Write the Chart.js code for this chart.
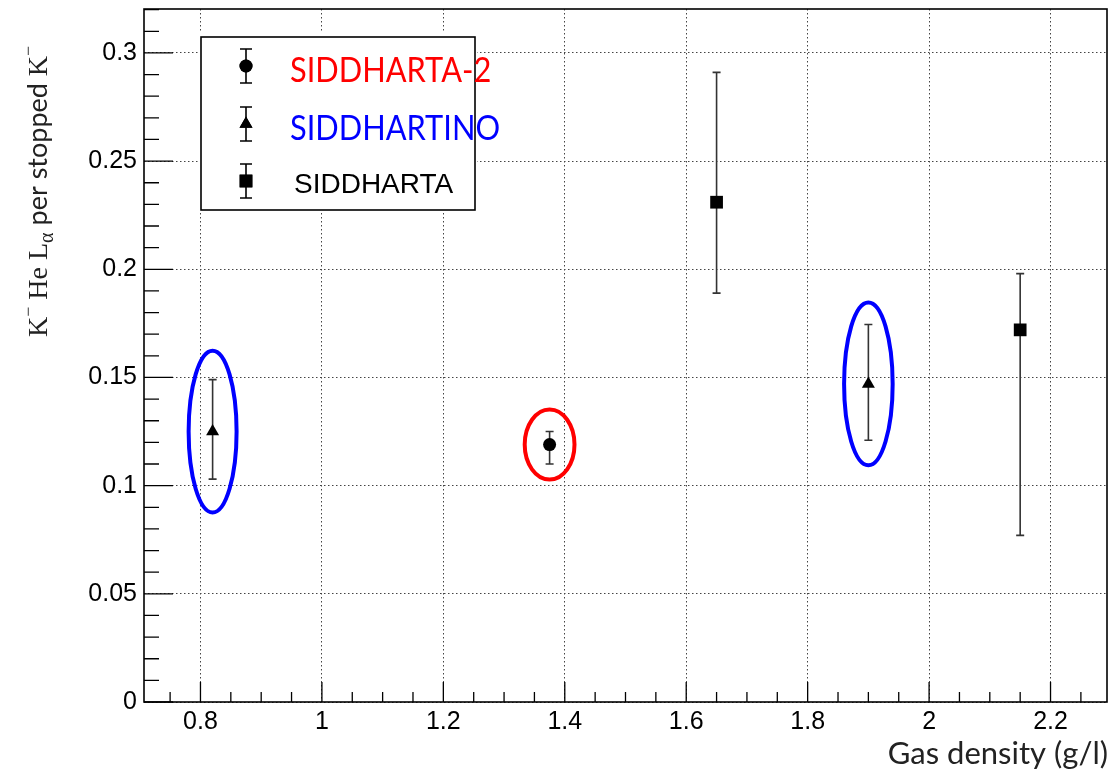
<!DOCTYPE html>
<html>
<head>
<meta charset="utf-8">
<title>K- He L-alpha yield vs gas density</title>
<script src="https://cdn.jsdelivr.net/npm/chart.js@4.4.1/dist/chart.umd.min.js"></script>
<style>
  html, body { margin: 0; padding: 0; background: #fff; }
  canvas { display: block; }
</style>
</head>
<body>
<canvas id="chart" width="1116" height="769"></canvas>
<script>
// Data
const labels = ['SIDDHARTA-2', 'SIDDHARTINO', 'SIDDHARTA'];

const sid2X = [1.375];
const sid2Y = [0.119];
const sid2Lo = [0.110];
const sid2Hi = [0.125];

const sinoX = [0.82, 1.90];
const sinoY = [0.125, 0.147];
const sinoLo = [0.103, 0.121];
const sinoHi = [0.149, 0.1745];

const sidX = [1.65, 2.15];
const sidY = [0.231, 0.172];
const sidLo = [0.189, 0.077];
const sidHi = [0.291, 0.198];

const xTicks = [0.8, 1, 1.2, 1.4, 1.6, 1.8, 2, 2.2];
const yTicks = [0, 0.05, 0.1, 0.15, 0.2, 0.25, 0.3];

// circled points: dataset index, point index, colour, half-axes in data units
const circled = [
    { ds: 0, i: 0, color: '#ff0000', rx: 0.041, ry: 0.0162 },
    { ds: 1, i: 0, color: '#0000ff', rx: 0.0395, ry: 0.0374 },
    { ds: 1, i: 1, color: '#0000ff', rx: 0.040, ry: 0.0376 }
];

const toPoints = (xs, ys, lo, hi) => xs.map((x, i) => ({ x: x, y: ys[i], lo: lo[i], hi: hi[i] }));

// error bars with small caps, drawn under the markers
const errorBars = {
    id: 'errorBars',
    beforeDatasetsDraw(chart) {
        const ctx = chart.ctx;
        const xs = chart.scales.x, ys = chart.scales.y;
        ctx.save();
        ctx.strokeStyle = '#333';
        ctx.lineWidth = 1.6;
        chart.data.datasets.forEach(ds => {
            ds.data.forEach(p => {
                const px = xs.getPixelForValue(p.x);
                const top = ys.getPixelForValue(p.hi);
                const bot = ys.getPixelForValue(p.lo);
                ctx.beginPath();
                ctx.moveTo(px, top); ctx.lineTo(px, bot);
                ctx.moveTo(px - 4, top); ctx.lineTo(px + 4, top);
                ctx.moveTo(px - 4, bot); ctx.lineTo(px + 4, bot);
                ctx.stroke();
            });
        });
        ctx.restore();
    }
};

// ROOT style frame, inner ticks, titles, legend and ellipses
const decorations = {
    id: 'decorations',
    afterDatasetsDraw(chart) {
        const ctx = chart.ctx;
        const a = chart.chartArea;
        const xs = chart.scales.x, ys = chart.scales.y;

        ctx.save();
        // minor + major ticks, pointing inwards
        ctx.strokeStyle = '#000';
        ctx.lineWidth = 1.3;
        ctx.beginPath();
        for (let k = Math.ceil(xs.min / 0.05); k * 0.05 <= xs.max; k++) {
            const v = k * 0.05;
            const px = xs.getPixelForValue(v);
            const major = Math.abs(v / 0.2 - Math.round(v / 0.2)) < 1e-6;
            ctx.moveTo(px, a.bottom);
            ctx.lineTo(px, a.bottom - (major ? 20 : 10));
        }
        for (let k = 0; k * 0.01 <= ys.max; k++) {
            const v = k * 0.01;
            const py = ys.getPixelForValue(v);
            const major = k % 5 === 0;
            ctx.moveTo(a.left, py);
            ctx.lineTo(a.left + (major ? 29 : 15), py);
        }
        ctx.stroke();

        // frame
        ctx.lineWidth = 1.6;
        ctx.strokeRect(a.left, a.top, a.right - a.left, a.bottom - a.top);

        // ellipses
        circled.forEach(c => {
            const p = chart.data.datasets[c.ds].data[c.i];
            const cx = xs.getPixelForValue(p.x);
            const cy = ys.getPixelForValue(p.y);
            const rx = xs.getPixelForValue(p.x + c.rx) - cx;
            const ry = cy - ys.getPixelForValue(p.y + c.ry);
            ctx.beginPath();
            ctx.ellipse(cx, cy, rx, ry, 0, 0, Math.PI * 2);
            ctx.strokeStyle = c.color;
            ctx.lineWidth = 4;
            ctx.stroke();
        });

        // legend box
        ctx.fillStyle = '#fff';
        ctx.fillRect(199, 31, 278, 182);
        ctx.strokeStyle = '#000';
        ctx.lineWidth = 1.6;
        ctx.strokeRect(201, 37, 274, 173);
        const rows = [66, 124, 181];
        const textColors = ['#ff0000', '#0000ff', '#000000'];
        const textFonts = ['35px Lato', '35px Lato', '28px "Liberation Sans"'];
        const textScale = [0.88, 0.88, 1];
        const textX = [290, 290, 294];
        const textBase = [82, 140, 193];
        chart.data.datasets.forEach((ds, i) => {
            const y = rows[i];
            ctx.strokeStyle = '#000';
            ctx.lineWidth = 1.6;
            ctx.beginPath();
            ctx.moveTo(246, y - 17); ctx.lineTo(246, y + 17);
            ctx.moveTo(240, y - 17); ctx.lineTo(252, y - 17);
            ctx.moveTo(240, y + 17); ctx.lineTo(252, y + 17);
            ctx.stroke();
            ctx.fillStyle = '#000';
            Chart.helpers.drawPoint(ctx, {
                pointStyle: ds.pointStyle, radius: ds.pointRadius, rotation: 0, borderWidth: 0
            }, 246, y);
            ctx.fill();
            ctx.save();
            ctx.translate(textX[i], textBase[i]);
            ctx.scale(textScale[i], 1);
            ctx.font = textFonts[i];
            ctx.fillStyle = textColors[i];
            ctx.textAlign = 'left';
            ctx.textBaseline = 'alphabetic';
            ctx.fillText(ds.label, 0, 0);
            ctx.restore();
        });

        // x title
        ctx.fillStyle = '#222';
        ctx.font = '31px Lato';
        ctx.textAlign = 'right';
        ctx.textBaseline = 'alphabetic';
        ctx.fillText('Gas density (g/l)', 1108, 764);

        // y title, rotated: K⁻ He Lα per stopped K⁻
        ctx.translate(47, 337);
        ctx.rotate(-Math.PI / 2);
        ctx.textAlign = 'left';
        const serif = '"Liberation Serif"';
        const parts = [
            { t: 'K', f: '28px ' + serif, dy: 0 },
            { t: '\u2212', f: '18px ' + serif, dy: -13 },
            { t: ' He L', f: '28px ' + serif, dy: 0 },
            { t: '\u03b1', f: '20px ' + serif, dy: 6 },
            { t: ' per stopped ', f: '27px Lato', dy: 0 },
            { t: 'K', f: '28px ' + serif, dy: 0 },
            { t: '\u2212', f: '18px ' + serif, dy: -13 }
        ];
        let x = 0;
        ctx.fillStyle = '#222';
        parts.forEach(p => {
            ctx.font = p.f;
            ctx.fillText(p.t, x, p.dy);
            x += ctx.measureText(p.t).width;
        });
        ctx.restore();
    }
};

const tickFont = { family: '"Liberation Sans", Arial, sans-serif', size: 25 };

const chart = new Chart(document.getElementById('chart'), {
    type: 'scatter',
    data: {
        datasets: [
            {
                label: labels[0],
                data: toPoints(sid2X, sid2Y, sid2Lo, sid2Hi),
                pointStyle: 'circle', pointRadius: 6.5,
                backgroundColor: '#000', borderColor: '#000', borderWidth: 0
            },
            {
                label: labels[1],
                data: toPoints(sinoX, sinoY, sinoLo, sinoHi),
                pointStyle: 'triangle', pointRadius: 7.5,
                backgroundColor: '#000', borderColor: '#000', borderWidth: 0
            },
            {
                label: labels[2],
                data: toPoints(sidX, sidY, sidLo, sidHi),
                pointStyle: 'rect', pointRadius: 9,
                backgroundColor: '#000', borderColor: '#000', borderWidth: 0
            }
        ]
    },
    options: {
        responsive: false,
        animation: false,
        devicePixelRatio: 1,
        layout: { padding: { left: 0, right: 7, top: 8, bottom: 0 } },
        plugins: {
            legend: { display: false },
            tooltip: { enabled: false }
        },
        scales: {
            x: {
                type: 'linear',
                min: 0.707,
                max: 2.293,
                afterBuildTicks: s => { s.ticks = xTicks.map(v => ({ value: v })); },
                afterFit: s => { s.height = 67; s.paddingLeft = 0; s.paddingRight = 0; },
                grid: { color: '#444', lineWidth: 1, drawTicks: false },
                border: { display: false, dash: [1.5, 2.5] },
                ticks: {
                    font: tickFont, color: '#000', padding: 5,
                    maxRotation: 0, autoSkip: false,
                    callback: v => String(v)
                }
            },
            y: {
                type: 'linear',
                min: 0,
                max: 0.3203,
                afterBuildTicks: s => { s.ticks = yTicks.map(v => ({ value: v })); },
                afterFit: s => { s.width = 144; s.paddingTop = 0; s.paddingBottom = 0; },
                grid: { color: '#444', lineWidth: 1, drawTicks: false },
                border: { display: false, dash: [1.5, 2.5] },
                ticks: {
                    font: tickFont, color: '#000', padding: 7,
                    autoSkip: false,
                    callback: v => String(v)
                }
            }
        }
    },
    plugins: [errorBars, decorations]
});
</script>
</body>
</html>
